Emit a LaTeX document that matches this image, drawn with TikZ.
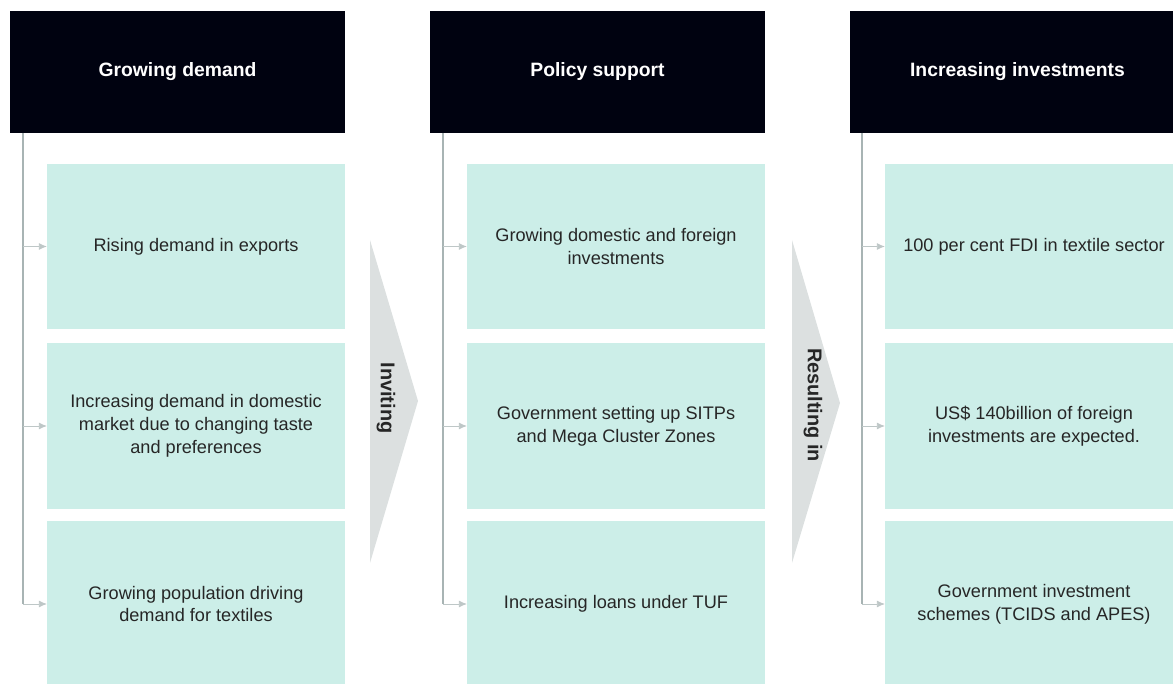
\documentclass[tikz,border=0pt]{standalone}
\usepackage{fontspec}
\setmainfont{Liberation Sans}
\usetikzlibrary{arrows.meta}
\definecolor{hdrblack}{RGB}{0,2,16}
\definecolor{mint}{RGB}{204,238,232}
\definecolor{chevgray}{RGB}{220,224,224}
\definecolor{trunkgray}{RGB}{168,180,180}
\begin{document}
\begin{tikzpicture}[x=0.03cm,y=-0.03cm,inner sep=0pt,outer sep=0pt,
header/.style={fill=hdrblack,text=white,minimum width=10.05cm,minimum height=3.66cm,font=\fontsize{16.5}{20}\selectfont\bfseries},
item/.style={fill=mint,text=black!85,minimum width=8.94cm,minimum height=4.95cm,align=center,font=\fontsize{15.5}{19.6}\selectfont},
trunk/.style={draw=trunkgray,line width=1pt},
feed/.style={draw=trunkgray!75,line width=0.8pt,-{Latex[length=7pt,width=6pt]}},
chevron/.style={fill=chevgray},
chevlabel/.style={rotate=-90,font=\fontsize{17}{20}\selectfont\bfseries,text=black!85}]

\clip (0,0) rectangle (1173,684);

\draw (177.5,72) node[header] (h1) {Growing demand};
\draw (597.5,72) node[header] (h2) {Policy support};
\draw (1017.5,72) node[header] (h3) {Increasing investments};

\draw (196,246.5) node[item] (b11) {Rising demand in exports};
\draw (196,426) node[item] (b12) {Increasing demand in domestic\\market due to changing taste\\and preferences};
\draw (196,604) node[item] (b13) {Growing population driving\\demand for textiles};

\draw (616,246.5) node[item] (b21) {Growing domestic and foreign\\investments};
\draw (616,426) node[item] (b22) {Government setting up SITPs\\and Mega Cluster Zones};
\draw (616,604) node[item] (b23) {Increasing loans under TUF};

\draw (1034,246.5) node[item] (b31) {100 per cent FDI in textile sector};
\draw (1034,426) node[item] (b32) {US\$ 140billion of foreign\\investments are expected.};
\draw (1034,604) node[item] (b33) {Government investment\\schemes (TCIDS and APES)};

\coordinate (t1) at ([xshift=0.39cm]h1.south west);
\coordinate (t2) at ([xshift=0.39cm]h2.south west);
\coordinate (t3) at ([xshift=0.36cm]h3.south west);

\draw[trunk] (t1) -- (t1 |- b13.west);
\draw[trunk] (t2) -- (t2 |- b23.west);
\draw[trunk] (t3) -- (t3 |- b33.west);
\draw[feed] (t1 |- b11.west) -- (b11.west);
\draw[feed] (t1 |- b12.west) -- (b12.west);
\draw[feed] (t1 |- b13.west) -- (b13.west);
\draw[feed] (t2 |- b21.west) -- (b21.west);
\draw[feed] (t2 |- b22.west) -- (b22.west);
\draw[feed] (t2 |- b23.west) -- (b23.west);
\draw[feed] (t3 |- b31.west) -- (b31.west);
\draw[feed] (t3 |- b32.west) -- (b32.west);
\draw[feed] (t3 |- b33.west) -- (b33.west);

\fill[chevron] (370,240) -- (418,401) -- (370,563) -- cycle;
\fill[chevron] (792,240) -- (840,403) -- (792,563) -- cycle;
\node[chevlabel] (inviting) at (386,398) {Inviting};
\node[chevlabel] (resulting) at (813,405) {Resulting in};
\end{tikzpicture}
\end{document}
